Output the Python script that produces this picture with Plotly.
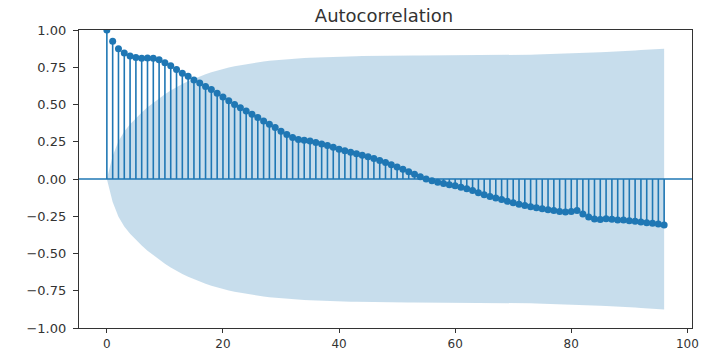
import plotly.graph_objects as go

lags = list(range(97))

acf_values = [
    1.000, 0.925, 0.875, 0.845, 0.825, 0.815, 0.810, 0.812, 0.810, 0.800,
    0.780, 0.760, 0.735, 0.710, 0.690, 0.665, 0.645, 0.620, 0.600, 0.575,
    0.550, 0.525, 0.500, 0.478, 0.456, 0.434, 0.412, 0.390, 0.368, 0.345,
    0.320, 0.298, 0.278, 0.265, 0.260, 0.255, 0.245, 0.235, 0.225, 0.213,
    0.200, 0.190, 0.180, 0.170, 0.160, 0.150, 0.138, 0.125, 0.110, 0.095,
    0.080, 0.065, 0.048, 0.032, 0.015, 0.000, -0.012, -0.022, -0.030, -0.038,
    -0.046, -0.055, -0.066, -0.078, -0.092, -0.106, -0.118, -0.128, -0.138, -0.150,
    -0.160, -0.170, -0.178, -0.186, -0.193, -0.200, -0.206, -0.212, -0.218, -0.222,
    -0.218, -0.212, -0.235, -0.255, -0.268, -0.272, -0.266, -0.270, -0.275, -0.276,
    -0.280, -0.283, -0.288, -0.293, -0.297, -0.302, -0.308,
]

conf_band = [
    0.000, 0.154, 0.254, 0.318, 0.368, 0.409, 0.447, 0.481, 0.511, 0.541,
    0.569, 0.594, 0.617, 0.637, 0.656, 0.673, 0.688, 0.703, 0.716, 0.728,
    0.738, 0.748, 0.757, 0.764, 0.772, 0.778, 0.784, 0.789, 0.793, 0.797,
    0.801, 0.804, 0.807, 0.809, 0.812, 0.813, 0.815, 0.816, 0.818, 0.820,
    0.821, 0.822, 0.823, 0.824, 0.825, 0.826, 0.826, 0.827, 0.827, 0.828,
    0.828, 0.828, 0.829, 0.829, 0.829, 0.829, 0.829, 0.829, 0.829, 0.829,
    0.829, 0.829, 0.829, 0.829, 0.829, 0.829, 0.830, 0.830, 0.830, 0.831,
    0.832, 0.832, 0.833, 0.834, 0.835, 0.836, 0.837, 0.838, 0.840, 0.841,
    0.843, 0.844, 0.845, 0.847, 0.848, 0.850, 0.853, 0.854, 0.857, 0.859,
    0.861, 0.863, 0.865, 0.867, 0.870, 0.872, 0.875,
]

x_ticks = [0, 20, 40, 60, 80, 100]
y_ticks = [1.0, 0.75, 0.5, 0.25, 0.0, -0.25, -0.5, -0.75, -1.0]
y_tick_labels = [f"{v:.2f}".replace("-", "\u2212") for v in y_ticks]
title_text = "Autocorrelation"

C0 = "#1f77b4"

stem_x, stem_y = [], []
for lag, v in zip(lags, acf_values):
    stem_x += [lag, lag, None]
    stem_y += [0, v, None]

fig = go.Figure()

fig.add_trace(go.Scatter(x=stem_x, y=stem_y, mode="lines",
                         line=dict(color=C0, width=1.6), hoverinfo="skip"))
fig.add_trace(go.Scatter(x=lags, y=acf_values, mode="markers",
                         marker=dict(color=C0, size=7, line=dict(width=0))))
fig.add_trace(go.Scatter(x=[-10, 110], y=[0, 0], mode="lines",
                         line=dict(color=C0, width=1.3), hoverinfo="skip"))
fig.add_trace(go.Scatter(x=lags, y=conf_band, mode="lines",
                         line=dict(width=0, color="rgba(31,119,180,0)"), hoverinfo="skip"))
fig.add_trace(go.Scatter(x=lags, y=[-b for b in conf_band], mode="lines",
                         line=dict(width=0, color="rgba(31,119,180,0)"),
                         fill="tonexty", fillcolor="rgba(31,119,180,0.25)", hoverinfo="skip"))

axis_common = dict(showgrid=False, zeroline=False, showline=True, mirror=True,
                   linecolor="#333", linewidth=1.2, ticks="outside",
                   tickcolor="#333", automargin=False)

fig.update_layout(
    width=701, height=349,
    margin=dict(l=79, r=9, t=30, b=21),
    paper_bgcolor="white", plot_bgcolor="white",
    showlegend=False,
    title=dict(text=title_text, x=384 / 701, xref="container", xanchor="center",
               y=1 - 16 / 349, yref="container", yanchor="middle",
               font=dict(family="DejaVu Sans", size=18, color="#333")),
    xaxis=dict(range=[-4.8, 100.8], tickvals=x_ticks, ticktext=[str(t) for t in x_ticks],
               ticklen=4, ticklabelstandoff=0,
               tickfont=dict(family="DejaVu Sans", size=12, color="#333"),
               **axis_common),
    yaxis=dict(range=[-1, 1], tickvals=y_ticks, ticktext=y_tick_labels,
               ticklen=5, ticklabelstandoff=4,
               tickfont=dict(family="DejaVu Sans", size=13, color="#333"),
               **axis_common),
)

fig.write_html("out.html")
